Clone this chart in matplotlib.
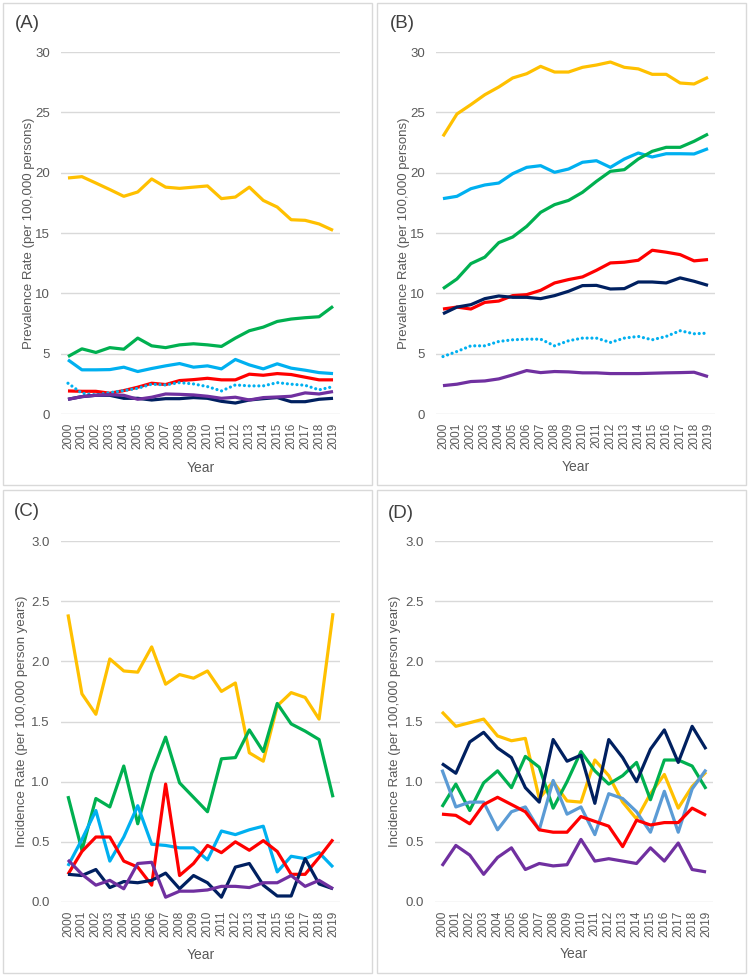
import matplotlib
matplotlib.use("Agg")
import matplotlib.pyplot as plt
from matplotlib.patches import Rectangle

plt.rcParams['font.family'] = ['Liberation Sans', 'DejaVu Sans']

years = [str(y) for y in range(2000, 2020)]

# Panel A (prevalence)
A_yellow = [19.56, 19.67, 19.14, 18.6, 18.04, 18.4, 19.48, 18.8, 18.7, 18.8, 18.9, 17.85, 17.98, 18.8, 17.7, 17.15, 16.1, 16.05, 15.75, 15.22]
A_green = [4.76, 5.4, 5.1, 5.5, 5.37, 6.29, 5.65, 5.5, 5.73, 5.82, 5.73, 5.6, 6.29, 6.9, 7.2, 7.67, 7.87, 7.98, 8.06, 8.92]
A_lblue = [4.49, 3.66, 3.66, 3.68, 3.88, 3.52, 3.77, 3.99, 4.18, 3.88, 3.99, 3.74, 4.52, 4.07, 3.74, 4.16, 3.8, 3.63, 3.43, 3.35]
A_red = [1.91, 1.88, 1.88, 1.72, 1.94, 2.22, 2.55, 2.44, 2.77, 2.85, 2.96, 2.83, 2.83, 3.3, 3.21, 3.35, 3.27, 3.05, 2.83, 2.83]
A_dot = [2.55, 1.72, 1.58, 1.77, 1.94, 2.13, 2.47, 2.41, 2.6, 2.49, 2.27, 1.91, 2.41, 2.33, 2.33, 2.6, 2.47, 2.38, 2.0, 2.27]
A_purple = [1.22, 1.44, 1.55, 1.6, 1.55, 1.22, 1.39, 1.66, 1.63, 1.58, 1.47, 1.3, 1.39, 1.16, 1.36, 1.41, 1.47, 1.75, 1.66, 1.86]
A_navy = [1.22, 1.44, 1.55, 1.55, 1.3, 1.3, 1.16, 1.27, 1.27, 1.36, 1.3, 1.05, 0.91, 1.16, 1.27, 1.36, 1.02, 1.02, 1.22, 1.3]

# Panel B (prevalence)
B_yellow = [23.01, 24.86, 25.64, 26.46, 27.1, 27.85, 28.2, 28.81, 28.34, 28.34, 28.73, 28.92, 29.17, 28.73, 28.6, 28.15, 28.15, 27.43, 27.35, 27.9]
B_lblue = [17.85, 18.04, 18.67, 18.98, 19.14, 19.92, 20.44, 20.58, 20.03, 20.3, 20.86, 20.99, 20.44, 21.13, 21.63, 21.3, 21.57, 21.57, 21.55, 21.99]
B_green = [10.39, 11.19, 12.46, 13.0, 14.2, 14.67, 15.55, 16.71, 17.35, 17.7, 18.37, 19.28, 20.11, 20.25, 21.13, 21.77, 22.1, 22.1, 22.6, 23.2]
B_red = [8.7, 8.86, 8.7, 9.25, 9.36, 9.81, 9.89, 10.25, 10.86, 11.14, 11.36, 11.91, 12.52, 12.58, 12.74, 13.57, 13.41, 13.21, 12.69, 12.8]
B_navy = [8.31, 8.86, 9.06, 9.56, 9.78, 9.67, 9.67, 9.56, 9.81, 10.17, 10.64, 10.66, 10.36, 10.39, 10.94, 10.94, 10.86, 11.28, 11.0, 10.66]
B_dot = [4.76, 5.18, 5.65, 5.65, 6.01, 6.15, 6.2, 6.2, 5.65, 6.07, 6.29, 6.29, 5.93, 6.29, 6.43, 6.15, 6.43, 6.9, 6.65, 6.7]
B_purple = [2.35, 2.47, 2.69, 2.74, 2.91, 3.24, 3.6, 3.43, 3.52, 3.49, 3.41, 3.41, 3.35, 3.35, 3.35, 3.38, 3.41, 3.43, 3.46, 3.1]

# Panel C (incidence)
C_yellow = [2.39, 1.73, 1.56, 2.02, 1.92, 1.91, 2.12, 1.81, 1.89, 1.86, 1.92, 1.75, 1.82, 1.24, 1.17, 1.63, 1.74, 1.7, 1.52, 2.4]
C_green = [0.88, 0.43, 0.86, 0.79, 1.13, 0.65, 1.07, 1.37, 0.99, 0.87, 0.75, 1.19, 1.2, 1.43, 1.25, 1.65, 1.48, 1.42, 1.35, 0.87]
C_lblue = [0.3, 0.52, 0.76, 0.34, 0.54, 0.8, 0.48, 0.47, 0.45, 0.45, 0.35, 0.59, 0.56, 0.6, 0.63, 0.25, 0.38, 0.36, 0.41, 0.29]
C_red = [0.23, 0.42, 0.54, 0.54, 0.34, 0.29, 0.14, 0.98, 0.22, 0.32, 0.47, 0.41, 0.5, 0.43, 0.51, 0.42, 0.23, 0.23, 0.37, 0.52]
C_navy = [0.23, 0.22, 0.27, 0.12, 0.17, 0.16, 0.18, 0.24, 0.11, 0.22, 0.16, 0.04, 0.29, 0.32, 0.14, 0.05, 0.05, 0.36, 0.15, 0.11]
C_purple = [0.35, 0.23, 0.14, 0.18, 0.11, 0.32, 0.33, 0.04, 0.09, 0.09, 0.1, 0.13, 0.13, 0.12, 0.16, 0.16, 0.22, 0.13, 0.18, 0.11]

# Panel D (incidence)
D_yellow = [1.58, 1.46, 1.49, 1.52, 1.38, 1.34, 1.36, 0.86, 1.0, 0.84, 0.83, 1.18, 1.05, 0.83, 0.69, 0.9, 1.06, 0.78, 0.96, 1.08]
D_navy = [1.15, 1.07, 1.33, 1.41, 1.28, 1.2, 0.95, 0.83, 1.35, 1.17, 1.22, 0.82, 1.35, 1.2, 1.0, 1.27, 1.43, 1.16, 1.46, 1.27]
D_green = [0.79, 0.98, 0.76, 0.99, 1.09, 0.95, 1.21, 1.12, 0.78, 1.0, 1.25, 1.09, 0.98, 1.05, 1.16, 0.85, 1.18, 1.18, 1.13, 0.94]
D_sblue = [1.1, 0.79, 0.83, 0.83, 0.6, 0.75, 0.79, 0.6, 1.01, 0.73, 0.79, 0.56, 0.9, 0.86, 0.75, 0.58, 0.92, 0.58, 0.94, 1.1]
D_red = [0.73, 0.72, 0.65, 0.81, 0.87, 0.81, 0.75, 0.6, 0.58, 0.58, 0.71, 0.67, 0.63, 0.46, 0.68, 0.64, 0.66, 0.66, 0.78, 0.72]
D_purple = [0.3, 0.47, 0.39, 0.23, 0.37, 0.45, 0.27, 0.32, 0.3, 0.31, 0.52, 0.34, 0.36, 0.34, 0.32, 0.45, 0.34, 0.49, 0.27, 0.25]

YELLOW = '#FFC000'
GREEN = '#00B050'
LBLUE = '#00B0F0'
RED = '#FF0000'
NAVY = '#002060'
PURPLE = '#7030A0'
SBLUE = '#5B9BD5'
TXT = '#595959'
GRID = '#D9D9D9'

W, H = 750, 977
fig = plt.figure(figsize=(7.5, 9.77), dpi=100)

def fx(px):
    return px / W

def fy(py):
    return 1 - py / H

# panel borders
for (x0, y0, x1, y1) in [(3, 3, 372, 485), (377, 3, 746, 485), (3, 490, 372, 973), (377, 490, 746, 973)]:
    fig.add_artist(Rectangle((fx(x0), fy(y1)), fx(x1 - x0), (y1 - y0) / H,
                             transform=fig.transFigure, fill=False, edgecolor=GRID, lw=1.0))

def make_ax(left_px, right_px, top_px, bottom_px):
    return fig.add_axes([fx(left_px), fy(bottom_px), fx(right_px - left_px), (bottom_px - top_px) / H])

lw = 2.3
dotstyle = (0, (0.01, 1.5))

panels = [
    dict(box=(61, 340, 52, 414), label='(A)', lpos=(27, 23), ylim=(0, 30), ticks=[0, 5, 10, 15, 20, 25, 30], fmt='{:.0f}',
         ylabel='Prevalence Rate (per 100,000 persons)', ylx=29, yearpos=468,
         series=[(A_yellow, YELLOW, '-'), (A_green, GREEN, '-'), (A_lblue, LBLUE, '-'), (A_red, RED, '-'),
                 (A_dot, LBLUE, 'dot'), (A_navy, NAVY, '-'), (A_purple, PURPLE, '-')]),
    dict(box=(436, 715, 52, 414), label='(B)', lpos=(402, 23), ylim=(0, 30), ticks=[0, 5, 10, 15, 20, 25, 30], fmt='{:.0f}',
         ylabel='Prevalence Rate (per 100,000 persons)', ylx=404, yearpos=467,
         series=[(B_yellow, YELLOW, '-'), (B_lblue, LBLUE, '-'), (B_green, GREEN, '-'), (B_red, RED, '-'),
                 (B_navy, NAVY, '-'), (B_dot, LBLUE, 'dot'), (B_purple, PURPLE, '-')]),
    dict(box=(61, 340, 541, 902), label='(C)', lpos=(27, 512), ylim=(0, 3), ticks=[0, 0.5, 1, 1.5, 2, 2.5, 3], fmt='{:.1f}',
         ylabel='Incidence Rate (per 100,000 person years)', ylx=22, yearpos=955,
         series=[(C_yellow, YELLOW, '-'), (C_green, GREEN, '-'), (C_lblue, LBLUE, '-'), (C_red, RED, '-'),
                 (C_navy, NAVY, '-'), (C_purple, PURPLE, '-')]),
    dict(box=(435, 713, 541, 902), label='(D)', lpos=(401, 513), ylim=(0, 3), ticks=[0, 0.5, 1, 1.5, 2, 2.5, 3], fmt='{:.1f}',
         ylabel='Incidence Rate (per 100,000 person years)', ylx=395, yearpos=954,
         series=[(D_yellow, YELLOW, '-'), (D_green, GREEN, '-'), (D_sblue, SBLUE, '-'), (D_red, RED, '-'),
                 (D_navy, NAVY, '-'), (D_purple, PURPLE, '-')]),
]

for p in panels:
    l, r, t, b = p['box']
    ax = make_ax(l, r, t, b)
    x = list(range(len(years)))
    for vals, col, st in p['series']:
        if st == 'dot':
            ax.plot(x, vals, color=col, lw=lw, linestyle=dotstyle, dash_capstyle='round')
        else:
            ax.plot(x, vals, color=col, lw=lw, solid_joinstyle='round', solid_capstyle='butt')
    ax.set_xlim(-0.5, len(years) - 0.5)
    ax.set_ylim(*p['ylim'])
    ax.set_yticks(p['ticks'])
    ax.set_yticklabels([p['fmt'].format(v) for v in p['ticks']], fontsize=9.5, color=TXT)
    ax.set_xticks(x)
    ax.set_xticklabels(years, rotation=90, fontsize=8.5, color=TXT)
    ax.tick_params(axis='both', length=0)
    ax.tick_params(axis='y', pad=8)
    ax.tick_params(axis='x', pad=6)
    for s in ax.spines.values():
        s.set_visible(False)
    ax.grid(axis='y', color=GRID, lw=1.0)
    ax.set_axisbelow(True)
    fig.text(fx(p['ylx']), fy((t + b) / 2), p['ylabel'], rotation=90,
             ha='center', va='center', fontsize=9.5, color=TXT)
    fig.text(fx((l + r) / 2), fy(p['yearpos']), 'Year', ha='center', va='center',
             fontsize=10, color=TXT)
    fig.text(fx(p['lpos'][0]), fy(p['lpos'][1]), p['label'], ha='center', va='center', fontsize=13.5, color='#404040')

fig.savefig('out.png', dpi=100)
